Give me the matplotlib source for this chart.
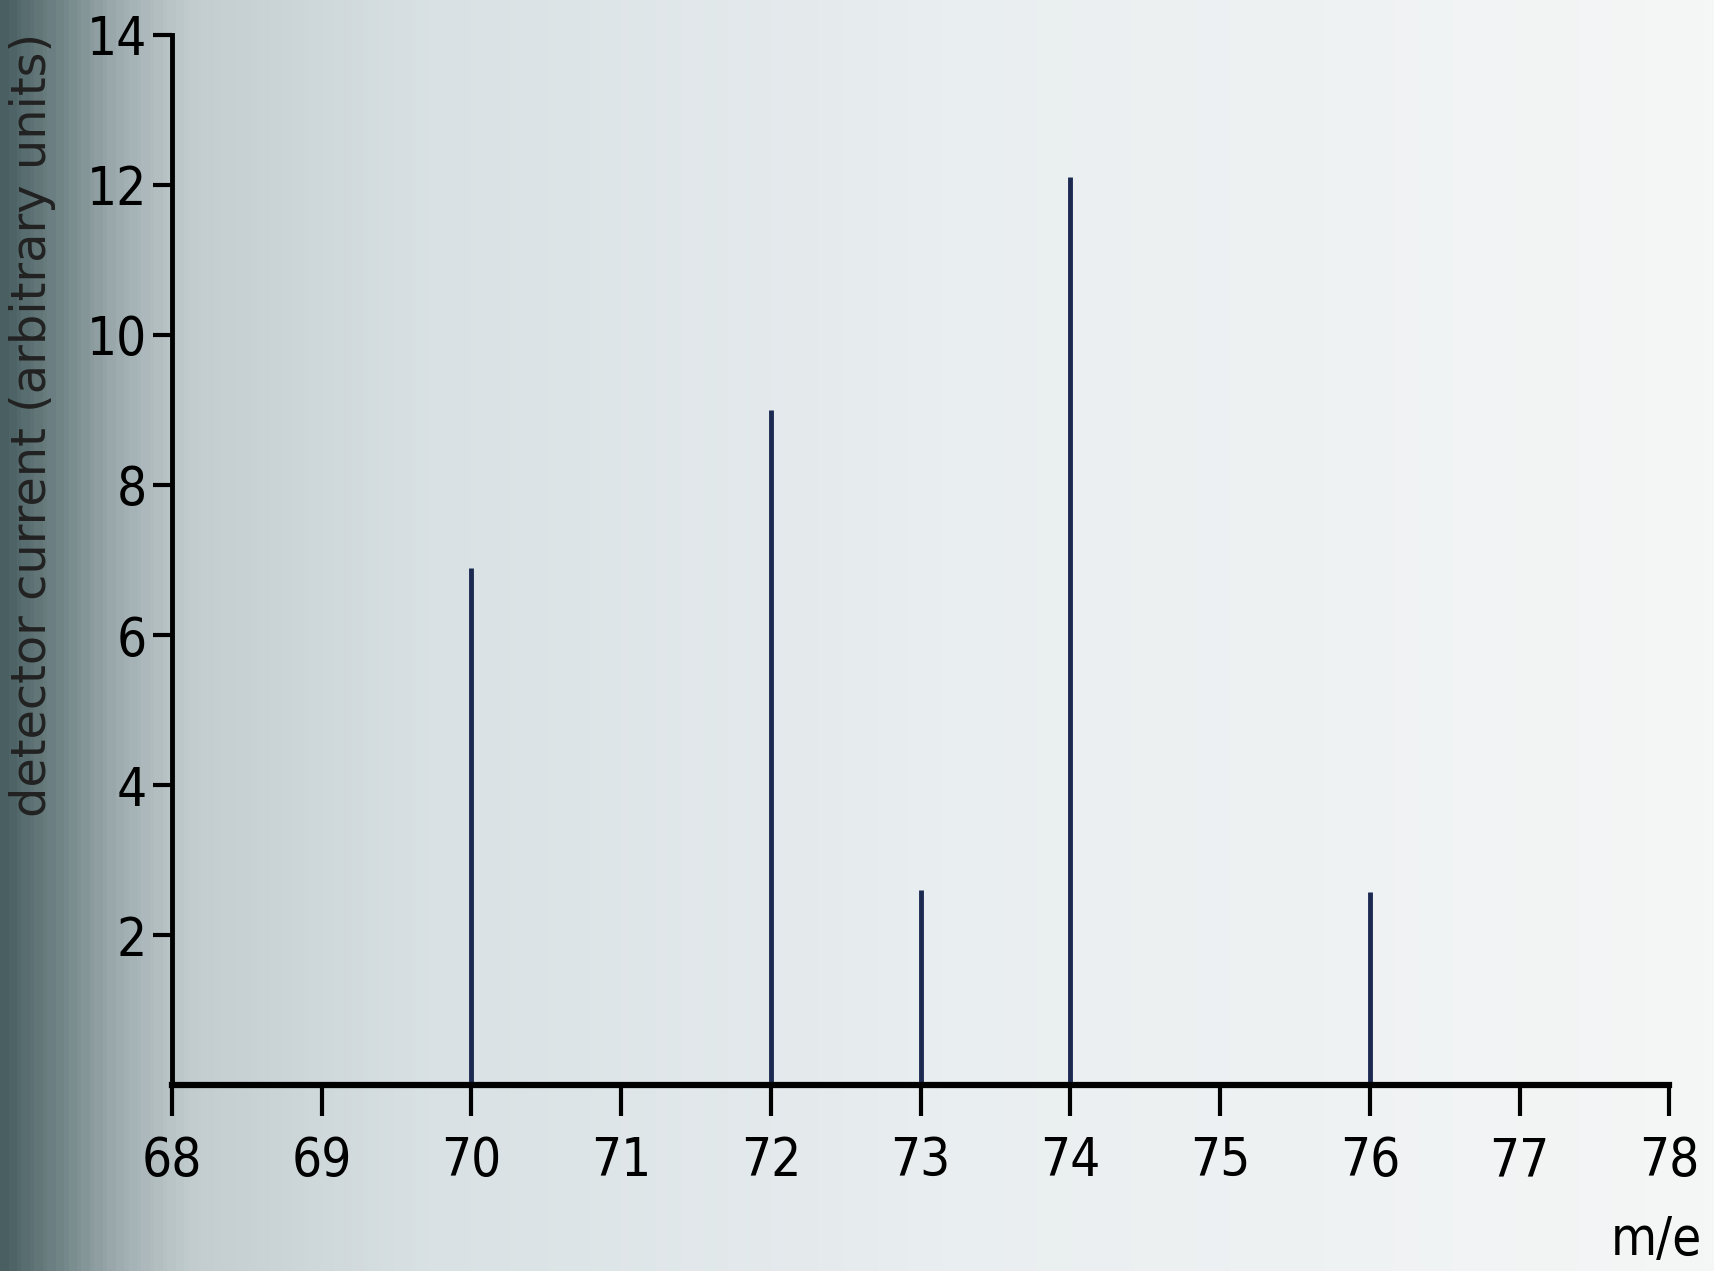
import matplotlib.pyplot as plt
import numpy as np
from matplotlib.colors import LinearSegmentedColormap

# mass spectrum peaks
mass = [70, 72, 73, 74, 76]
current = [6.9, 9.0, 2.6, 12.1, 2.57]
xticks = [68, 69, 70, 71, 72, 73, 74, 75, 76, 77, 78]
yticks = [2, 4, 6, 8, 10, 12, 14]

fig = plt.figure(figsize=(17.14, 12.71), dpi=100)

# scanned-page shading: dark on the left edge, nearly white on the right
bg = fig.add_axes([0, 0, 1, 1], zorder=-1)
shade = LinearSegmentedColormap.from_list('page', [
    (0.00, '#4a5f62'), (0.03, '#6f8385'), (0.07, '#a3b0b3'),
    (0.11, '#c3cdd0'), (0.25, '#d9e1e4'), (0.55, '#e9eef0'),
    (1.00, '#f5f6f6')])
bg.imshow(np.linspace(0, 1, 400)[None, :], aspect='auto', cmap=shade,
          extent=[0, 1, 0, 1])
bg.axis('off')

ax = fig.add_axes([0.1003, 0.1463, 0.8737, 0.8262])
ax.patch.set_alpha(0)
ax.vlines(mass, 0, current, color='#1c2a52', linewidth=3.5)

ax.set_xlim(68, 78)
ax.set_ylim(0, 14)
ax.set_xticks(xticks)
ax.set_yticks(yticks)
ax.spines['top'].set_visible(False)
ax.spines['right'].set_visible(False)
ax.spines['bottom'].set_linewidth(4.5)
ax.spines['left'].set_linewidth(3.5)

ax.tick_params(axis='x', direction='out', length=22, width=3, pad=14,
               labelsize=38)
ax.tick_params(axis='y', direction='out', length=14, width=3, pad=4,
               labelsize=38)
for lab in ax.get_xticklabels() + ax.get_yticklabels():
    lab.set_fontstretch('condensed')

fig.text(0.019, 0.666, 'detector current (arbitrary units)', rotation=90,
         ha='center', va='center', fontsize=34.5, color='#222222')
fig.text(0.993, 0.004, 'm/e', ha='right', va='bottom', fontsize=38,
         fontstretch='condensed')

plt.savefig('out.png', dpi=100)
